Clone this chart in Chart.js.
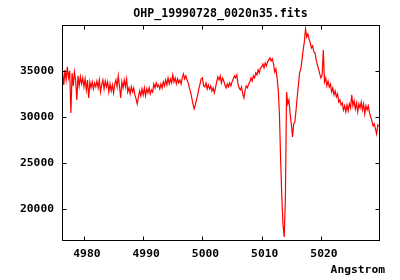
<!DOCTYPE html>
<html><head><meta charset="utf-8">
<script src="https://cdn.jsdelivr.net/npm/chart.js@4.4.0/dist/chart.umd.min.js"></script>
<style>html,body{margin:0;padding:0;background:#fff}#wrap{width:400px;height:280px}</style>
</head><body><div id="wrap"><canvas id="c" width="400" height="280"></canvas></div>
<script>
const chartTitle = "OHP_19990728_0020n35.fits";
const xAxisTitle = "Angstrom";
const xTickValues = [4980, 4990, 5000, 5010, 5020];
const yTickValues = [20000, 25000, 30000, 35000];
const xRange = [4976.3, 5029.8];
const yRange = [16650, 39950];

const wavelengths = [
4976.4,4976.6,4976.8,4977.0,4977.2,4977.4,4977.6,4977.8,4978.0,4978.2,
4978.4,4978.6,4978.8,4979.0,4979.2,4979.4,4979.6,4979.8,4980.0,4980.2,
4980.4,4980.6,4980.8,4981.0,4981.2,4981.4,4981.6,4981.8,4982.0,4982.2,
4982.4,4982.6,4982.8,4983.0,4983.2,4983.4,4983.6,4983.8,4984.0,4984.2,
4984.4,4984.6,4984.8,4985.0,4985.2,4985.4,4985.6,4985.8,4986.0,4986.2,
4986.4,4986.6,4986.8,4987.0,4987.2,4987.4,4987.6,4987.8,4988.0,4988.2,
4988.4,4988.6,4988.8,4989.0,4989.2,4989.4,4989.6,4989.8,4990.0,4990.2,
4990.4,4990.6,4990.8,4991.0,4991.2,4991.4,4991.6,4991.8,4992.0,4992.2,
4992.4,4992.6,4992.8,4993.0,4993.2,4993.4,4993.6,4993.8,4994.0,4994.2,
4994.4,4994.6,4994.8,4995.0,4995.2,4995.4,4995.6,4995.8,4996.0,4996.2,
4996.4,4996.6,4996.8,4997.0,4997.2,4997.4,4997.6,4997.8,4998.0,4998.2,
4998.4,4998.6,4998.8,4999.0,4999.2,4999.4,4999.6,4999.8,5000.0,5000.2,
5000.4,5000.6,5000.8,5001.0,5001.2,5001.4,5001.6,5001.8,5002.0,5002.2,
5002.4,5002.6,5002.8,5003.0,5003.2,5003.4,5003.6,5003.8,5004.0,5004.2,
5004.4,5004.6,5004.8,5005.0,5005.2,5005.4,5005.6,5005.8,5006.0,5006.2,
5006.4,5006.6,5006.8,5007.0,5007.2,5007.4,5007.6,5007.8,5008.0,5008.2,
5008.4,5008.6,5008.8,5009.0,5009.2,5009.4,5009.6,5009.8,5010.0,5010.2,
5010.4,5010.6,5010.8,5011.0,5011.2,5011.4,5011.6,5011.8,5012.0,5012.2,
5012.4,5012.6,5012.8,5013.0,5013.2,5013.4,5013.6,5013.8,5014.0,5014.2,
5014.4,5014.6,5014.8,5015.0,5015.2,5015.4,5015.6,5015.8,5016.0,5016.2,
5016.4,5016.6,5016.8,5017.0,5017.2,5017.4,5017.6,5017.8,5018.0,5018.2,
5018.4,5018.6,5018.8,5019.0,5019.2,5019.4,5019.6,5019.8,5020.0,5020.2,
5020.4,5020.6,5020.8,5021.0,5021.2,5021.4,5021.6,5021.8,5022.0,5022.2,
5022.4,5022.6,5022.8,5023.0,5023.2,5023.4,5023.6,5023.8,5024.0,5024.2,
5024.4,5024.6,5024.8,5025.0,5025.2,5025.4,5025.6,5025.8,5026.0,5026.2,
5026.4,5026.6,5026.8,5027.0,5027.2,5027.4,5027.6,5027.8,5028.0,5028.2,
5028.4,5028.6,5028.8,5029.0,5029.2,5029.4,5029.6,5029.8
];

const flux = [
34860,33450,35080,33990,35400,34210,34970,30420,34750,33340,
34860,33990,31830,34430,33340,34320,33560,34210,33240,34100,
32910,33990,32040,33780,33130,33780,33020,33670,33240,33880,
33130,33990,32690,33450,33990,33020,33880,33240,33780,32690,
33560,32800,33450,32590,33560,33990,33240,34430,33340,32040,
33780,33130,33990,33240,34100,32690,33130,32480,33240,32690,
33130,32370,31940,31390,32150,32800,32260,33020,32370,33130,
32260,33020,32590,33130,32480,32910,32690,33560,33130,33670,
33240,33450,33020,33560,33130,33780,33340,33990,33450,34210,
33560,34100,33670,34540,33780,34210,33560,34100,33670,33990,
33560,34210,34640,34100,34430,33990,33670,33130,32690,32040,
31390,30850,31280,31830,32370,33020,33560,34100,34210,33340,
33240,33670,33020,33450,33020,33340,32800,33130,32590,33130,
33780,34320,33990,34430,33670,34210,33880,33450,33130,33560,
33240,33670,33340,33780,34100,34430,34210,34540,33560,33130,
32910,33240,32480,32040,32910,33340,33130,33560,33780,34210,
33880,34430,34210,34750,34540,35080,34750,35290,35400,35730,
35290,35830,35510,35940,36160,36380,36050,36270,35730,34860,
35180,34210,32910,30200,25330,21320,18290,16990,21210,32690,
31390,31830,30310,29230,27820,29230,29440,30740,32150,33450,
34750,35180,36160,37240,38110,39520,38650,38970,38430,38000,
37460,37670,37030,36920,36160,35620,35180,34640,34210,34530,
37240,33780,34210,33340,33880,33240,33560,32690,33130,32370,
32800,32150,32480,31610,31830,31280,31500,30740,31180,30530,
31280,30640,31390,30960,32370,31180,31720,30850,31500,30530,
31390,30960,31610,30740,31390,30310,31180,30740,31180,30420,
29990,29550,29010,29230,28690,28150,29120,29010
];

const monoFont = { family: "'DejaVu Sans Mono', monospace", weight: 'bold', size: 11.3 };

const framePlugin = {
  id: 'frameTicks',
  afterDraw(chart) {
    const { ctx, chartArea: a, scales } = chart;
    const L = Math.floor(a.left) + 0.5, R = Math.floor(a.right) + 0.5;
    const T = Math.round(a.top) + 0.5, B = Math.round(a.bottom) + 0.5;
    const tl = 4;
    ctx.save();
    ctx.strokeStyle = '#000';
    ctx.lineWidth = 1;
    ctx.strokeRect(L, T, R - L, B - T);
    ctx.beginPath();
    scales.x.ticks.forEach(t => {
      const px = Math.round(scales.x.getPixelForValue(t.value)) + 0.5;
      ctx.moveTo(px, B); ctx.lineTo(px, B - tl);
      ctx.moveTo(px, T); ctx.lineTo(px, T + tl);
    });
    scales.y.ticks.forEach(t => {
      const py = Math.round(scales.y.getPixelForValue(t.value)) + 0.5;
      ctx.moveTo(L, py); ctx.lineTo(L + tl, py);
      ctx.moveTo(R, py); ctx.lineTo(R - tl, py);
    });
    ctx.stroke();
    ctx.restore();
  }
};

new Chart(document.getElementById('c'), {
  type: 'line',
  data: {
    datasets: [{
      data: wavelengths.map((w, i) => ({ x: w, y: flux[i] })),
      borderColor: '#ff0000',
      borderWidth: 1.2,
      pointRadius: 0,
      tension: 0,
      fill: false,
      yAxisID: 'y'
    }]
  },
  options: {
    responsive: false,
    animation: false,
    devicePixelRatio: 1,
    layout: { padding: { left: 0, right: 15, top: 0, bottom: 0 } },
    plugins: {
      legend: { display: false },
      tooltip: { enabled: false },
      title: {
        display: true,
        fullSize: false,
        text: chartTitle,
        color: '#000',
        font: { family: "'DejaVu Sans Mono', monospace", weight: 'bold', size: 11.6 },
        padding: { top: 7, bottom: 4 }
      },
      subtitle: {
        display: true,
        fullSize: true,
        position: 'bottom',
        align: 'end',
        text: xAxisTitle,
        color: '#000',
        font: monoFont,
        padding: { top: 1.7, bottom: 2.7 }
      }
    },
    scales: {
      x: {
        type: 'linear',
        min: xRange[0],
        max: xRange[1],
        afterBuildTicks: s => { s.ticks = xTickValues.map(v => ({ value: v })); },
        afterFit: s => { s.height = 22; },
        grid: { display: false, drawTicks: false },
        border: { display: false },
        ticks: {
          color: '#000', font: monoFont, padding: 7, labelOffset: 3,
          maxRotation: 0, autoSkip: false, callback: v => String(v)
        }
      },
      y: {
        type: 'linear',
        position: 'left',
        min: yRange[0],
        max: yRange[1],
        afterBuildTicks: s => { s.ticks = yTickValues.map(v => ({ value: v })); },
        afterFit: s => { s.width = 62; },
        grid: { display: false, drawTicks: false },
        border: { display: false },
        ticks: { color: '#000', font: monoFont, padding: 8, autoSkip: false, callback: v => String(v) }
      },
      yRight: {
        type: 'linear',
        position: 'right',
        display: true,
        min: yRange[0],
        max: yRange[1],
        afterFit: s => { s.width = 6; },
        grid: { display: false, drawTicks: false },
        border: { display: false },
        ticks: { display: false }
      }
    }
  },
  plugins: [framePlugin]
});
</script>
</body></html>
